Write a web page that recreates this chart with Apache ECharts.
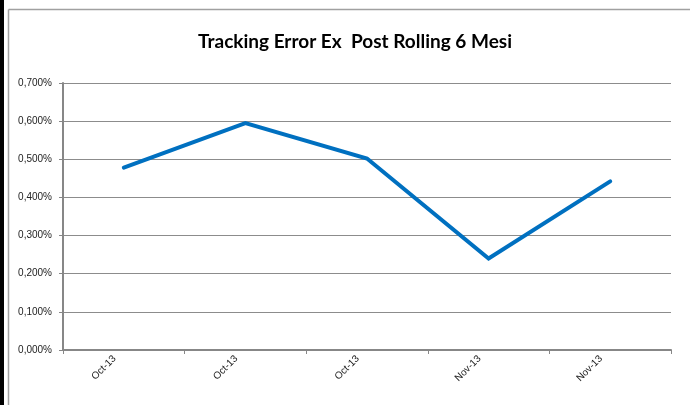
<!DOCTYPE html>
<html>
<head>
<meta charset="utf-8">
<script src="https://cdn.jsdelivr.net/npm/echarts@6/dist/echarts.min.js"></script>
<style>
html,body{margin:0;padding:0;background:#fff;}
#chart{width:690px;height:405px;}
</style>
</head>
<body>
<div id="chart"></div>
<script>
const titleText = 'Tracking Error Ex  Post Rolling 6 Mesi';
const categories = ['Oct-13', 'Oct-13', 'Oct-13', 'Nov-13', 'Nov-13'];
const trackingError = [0.478, 0.595, 0.502, 0.240, 0.442];
const yMin = 0, yMax = 0.7, yStep = 0.1;

const chart = echarts.init(document.getElementById('chart'), null, {renderer: 'canvas'});
chart.setOption({
  animation: false,
  backgroundColor: '#ffffff',
  title: {
    text: titleText,
    left: 350, top: 27, textAlign: 'center',
    textStyle: {fontFamily: 'Lato', fontWeight: 'bold', fontSize: 19, color: '#000'}
  },
  graphic: [
    {type: 'rect', shape: {x: 0, y: 0, width: 4, height: 405}, style: {fill: '#000'}, silent: true},
    {type: 'line', shape: {x1: 8.5, y1: 9.5, x2: 690, y2: 9.5}, style: {stroke: '#a0a0a0', lineWidth: 1.5}, silent: true},
    {type: 'line', shape: {x1: 8.5, y1: 9.5, x2: 8.5, y2: 405}, style: {stroke: '#a0a0a0', lineWidth: 1.5}, silent: true}
  ],
  grid: {left: 63, right: 19, top: 83, bottom: 55, containLabel: false},
  xAxis: {
    type: 'category',
    data: categories,
    boundaryGap: true,
    axisLine: {lineStyle: {color: '#878787', width: 2}},
    axisTick: {show: true, length: 4, lineStyle: {color: '#878787', width: 1}},
    axisLabel: {rotate: 45, fontFamily: 'Liberation Sans', fontSize: 10, color: '#222', margin: 5,
      verticalAlign: 'bottom', padding: [0, 8, 0, 0]}
  },
  yAxis: {
    type: 'value',
    min: yMin, max: yMax, interval: yStep,
    axisLine: {show: true, lineStyle: {color: '#878787', width: 2}},
    axisTick: {show: true, length: 4, lineStyle: {color: '#878787'}},
    splitLine: {show: true, lineStyle: {color: '#8c8c8c', width: 1}},
    axisLabel: {
      fontFamily: 'Liberation Sans', fontSize: 10, color: '#222', margin: 11,
      formatter: v => v.toFixed(3).replace('.', ',') + '%'
    }
  },
  series: [{
    type: 'line',
    data: trackingError,
    symbol: 'none',
    lineStyle: {color: '#0070C0', width: 4, cap: 'round', join: 'miter'}
  }]
});
</script>
</body>
</html>
